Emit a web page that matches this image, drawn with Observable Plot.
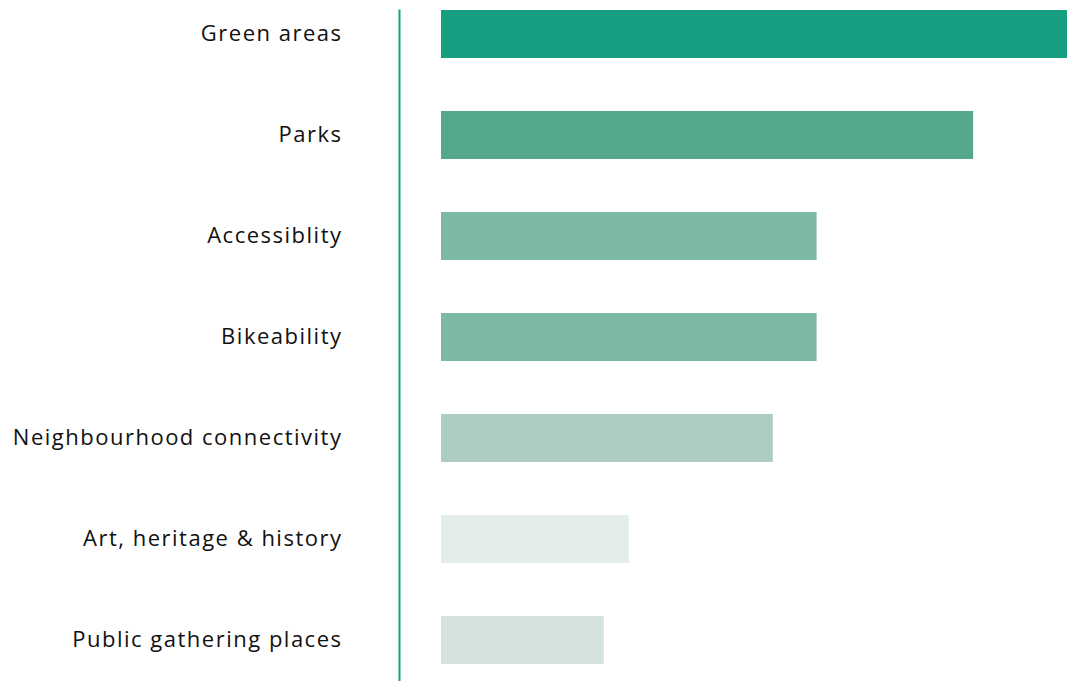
<!DOCTYPE html>
<html>
<head>
<meta charset="utf-8">
<script src="https://cdn.jsdelivr.net/npm/d3@7"></script>
<script src="https://cdn.jsdelivr.net/npm/@observablehq/plot@0.6"></script>
<style>
  html, body { margin: 0; padding: 0; background: #fff; }
  #chart svg text { letter-spacing: 1.5px; }
</style>
</head>
<body>
<div id="chart"></div>
<script>
const categories = ["Green areas", "Parks", "Accessiblity", "Bikeability", "Neighbourhood connectivity", "Art, heritage & history", "Public gathering places"];
const values = [100, 85, 60, 60, 53, 30, 26];
const barColors = ["#159e7f", "#52a78c", "#7cb8a3", "#7cb8a3", "#adcdc1", "#e4eee9", "#d3e3dc"];

const data = categories.map((c, i) => ({category: c, value: values[i]}));

const chart = Plot.plot({
  width: 1067,
  height: 681,
  marginTop: 10,
  marginBottom: 0,
  marginLeft: 399,
  marginRight: 0,
  style: {fontFamily: "'Open Sans', sans-serif", fontSize: "22px", color: "#111", background: "#fff"},
  x: {domain: [0, 100], insetLeft: 42, axis: null},
  y: {domain: categories, paddingInner: 0.526, paddingOuter: 0.074, align: 0, label: null},
  color: {domain: categories, range: barColors},
  marks: [
    Plot.barX(data, {x: "value", y: "category", fill: "category"}),
    Plot.frame({anchor: "left", stroke: "#14a07f", strokeWidth: 2}),
    Plot.axisY({tickSize: 0, tickPadding: 57, fontSize: 22, fontWeight: 500, fill: "#111", label: null, dy: -1})
  ]
});
document.getElementById("chart").append(chart);
</script>
</body>
</html>
